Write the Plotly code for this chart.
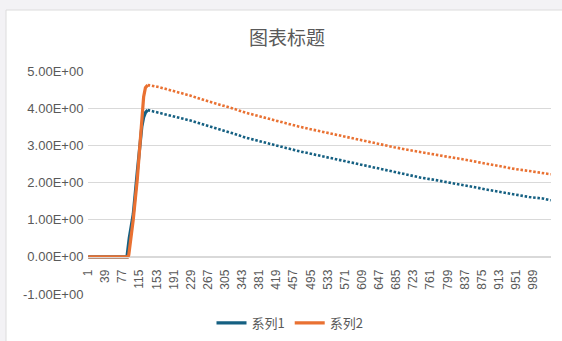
import plotly.graph_objects as go

# ---- data -----------------------------------------------------------------
title_text = "图表标题"
series_names = ["系列1", "系列2"]
series_colors = ["#156082", "#E97132"]

# rising part (categories / values), drawn as a solid stroke
rise_x_1 = [1, 87, 92, 101, 110, 120, 124, 128, 133]
rise_y_1 = [0.0, 0.0, 0.5, 1.15, 2.3, 3.5, 3.75, 3.88, 3.95]
rise_x_2 = [1, 89, 91, 101, 110, 120, 124, 128, 133]
rise_y_2 = [0.0, 0.0, 0.05, 1.0, 2.1, 3.7, 4.3, 4.55, 4.62]

# decaying part (categories / values), drawn as a dotted stroke
decay_x = [133, 140, 160, 180, 200, 230, 260, 290, 320, 350, 380, 410, 440,
           470, 500, 530, 560, 590, 620, 650, 680, 710, 740, 770, 800, 830,
           860, 890, 920, 950, 980, 1010, 1028]
decay_y_1 = [3.95, 3.93, 3.87, 3.82, 3.76, 3.66, 3.55, 3.45, 3.33, 3.21, 3.11,
             3.02, 2.93, 2.84, 2.76, 2.67, 2.59, 2.51, 2.43, 2.35, 2.27, 2.20,
             2.13, 2.07, 2.01, 1.94, 1.87, 1.80, 1.73, 1.67, 1.61, 1.57, 1.52]
decay_y_2 = [4.62, 4.61, 4.56, 4.50, 4.43, 4.33, 4.21, 4.11, 4.00, 3.88, 3.78,
             3.69, 3.60, 3.50, 3.42, 3.34, 3.27, 3.19, 3.11, 3.03, 2.95, 2.88,
             2.81, 2.75, 2.69, 2.63, 2.56, 2.49, 2.42, 2.36, 2.31, 2.26, 2.22]

n_categories = 1028
x_tick_vals = list(range(1, 990, 38))
x_tick_text = [str(v) for v in x_tick_vals]
y_tick_vals = [-1, 0, 1, 2, 3, 4, 5]
y_tick_text = ["-1.00E+00", "0.00E+00", "1.00E+00", "2.00E+00",
               "3.00E+00", "4.00E+00", "5.00E+00"]

# ---- layout geometry --------------------------------------------------------
W, H = 562, 341
ML, MR, MT, MB = 88, 11, 71, 47
PW, PH = W - ML - MR, H - MT - MB

FONT = "Liberation Sans, Arial, Noto Sans CJK SC, sans-serif"
TEXT = "#595959"
GRID = "#d9d9d9"

fig = go.Figure()

rises = [(rise_x_1, rise_y_1), (rise_x_2, rise_y_2)]
decays = [decay_y_1, decay_y_2]
for i in range(2):
    rx, ry = rises[i]
    fig.add_trace(go.Scatter(
        x=rx, y=ry, mode="lines", name=series_names[i],
        legendgroup=series_names[i], showlegend=True,
        line=dict(color=series_colors[i], width=3.2),
    ))
    fig.add_trace(go.Scatter(
        x=decay_x, y=decays[i], mode="lines", name=series_names[i],
        legendgroup=series_names[i], showlegend=False,
        line=dict(color=series_colors[i], width=2.6, dash="2.5px,1.8px"),
    ))

# outer frame of the chart area (white card on a light grey page)
def px_to_paper_x(px):
    return (px - ML) / PW

def px_to_paper_y(py):
    return (H - MB - py) / PH

fig.add_shape(type="rect", xref="paper", yref="paper", layer="below",
              x0=px_to_paper_x(6), x1=px_to_paper_x(W + 2),
              y0=px_to_paper_y(H + 2), y1=px_to_paper_y(10),
              fillcolor="white", line=dict(color="#dcdcdc", width=1))

fig.update_layout(
    width=W, height=H,
    margin=dict(l=ML, r=MR, t=MT, b=MB, pad=0, autoexpand=False),
    paper_bgcolor="#f3f2f5",
    plot_bgcolor="rgba(0,0,0,0)",
    font=dict(family=FONT, size=12, color=TEXT),
    title=dict(text=title_text, x=287 / W, y=1 - 38 / H, xref="container",
               yref="container", xanchor="center", yanchor="middle",
               font=dict(size=19, color=TEXT,
                         family="Noto Sans CJK SC, sans-serif")),
    showlegend=True,
    legend=dict(orientation="h", xref="container", yref="container",
                x=290 / W, y=1 - 323 / H, xanchor="center", yanchor="middle",
                font=dict(size=13, color=TEXT,
                          family="Noto Sans CJK SC, sans-serif"),
                bgcolor="rgba(0,0,0,0)", itemwidth=30),
    xaxis=dict(
        range=[0.5, n_categories + 0.5], automargin=False,
        anchor="free", position=1 / 6,
        tickmode="array", tickvals=x_tick_vals, ticktext=x_tick_text,
        tickangle=-90, showgrid=False, zeroline=False,
        showline=True, linecolor=GRID, linewidth=1,
        ticks="outside", ticklen=7, tickcolor="rgba(0,0,0,0)",
        tickfont=dict(size=12, color=TEXT, family=FONT),
    ),
    yaxis=dict(
        range=[-1, 5], domain=[0, 1], automargin=False,
        tickmode="array", tickvals=y_tick_vals, ticktext=y_tick_text,
        showgrid=True, gridcolor=GRID, gridwidth=1, zeroline=False,
        showline=False,
        ticks="outside", ticklen=1, tickcolor="rgba(0,0,0,0)",
        tickfont=dict(size=13, color=TEXT, family=FONT),
    ),
)

fig.write_html("out.html")
